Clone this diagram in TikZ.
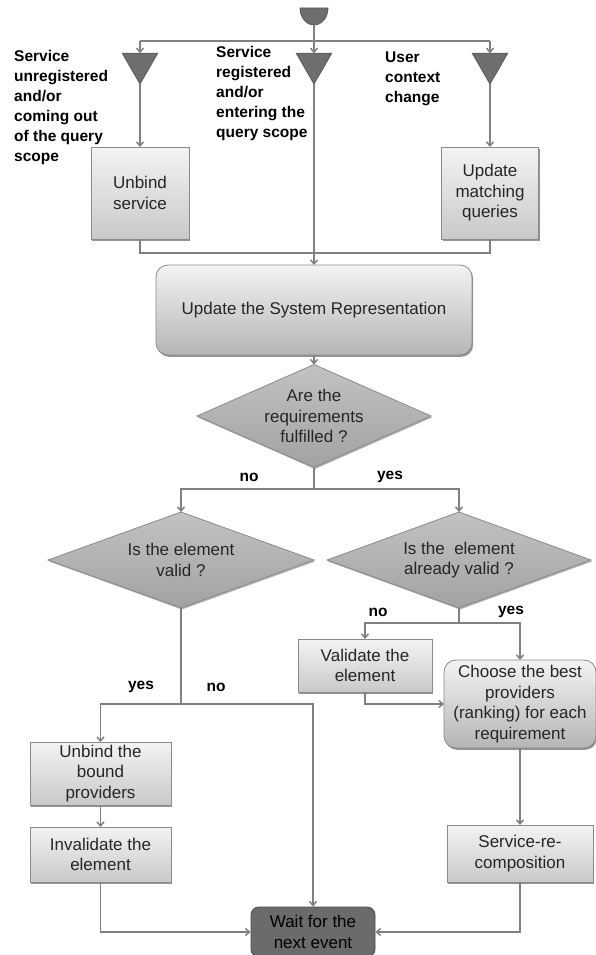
\documentclass[tikz,border=0pt]{standalone}
\usepackage{fontspec}
\setmainfont{Liberation Sans}
\usetikzlibrary{positioning,shapes.geometric,shadows,arrows.meta}

\definecolor{linegray}{HTML}{808080}
\definecolor{edgegray}{HTML}{8A8A8A}
\definecolor{boxtop}{HTML}{F3F3F3}
\definecolor{boxbot}{HTML}{C9C9C9}
\definecolor{roundbot}{HTML}{B5B5B5}
\definecolor{diamtop}{HTML}{C2C2C2}
\definecolor{diambot}{HTML}{A2A2A2}
\definecolor{eventgray}{HTML}{6E6E6E}
\definecolor{eventedge}{HTML}{5A5A5A}
\definecolor{waitgray}{HTML}{6B6B6B}

\begin{document}
\begin{tikzpicture}[x=1pt, y=-1pt, >={Straight Barb[length=4pt,width=7pt]},
    flow/.style={draw=linegray, line width=1.5pt},
    box/.style={rectangle, draw=edgegray, line width=0.8pt, top color=boxtop, bottom color=boxbot,
        drop shadow={shadow xshift=1.2pt, shadow yshift=-1.8pt, fill=black!60, opacity=.7},
        align=center, inner sep=0pt, outer sep=0pt, text=black!85,
        font=\fontsize{17}{20.5}\selectfont},
    roundbox/.style={box, rounded corners=12pt, bottom color=roundbot},
    decision/.style={diamond, draw=edgegray, line width=0.8pt, top color=diamtop, bottom color=diambot,
        drop shadow={shadow xshift=1pt, shadow yshift=-1.5pt, fill=black!50, opacity=.6},
        align=center, inner sep=0pt, outer sep=0pt, text=black!85,
        font=\fontsize{17}{20.5}\selectfont},
    event/.style={regular polygon, regular polygon sides=3, shape border rotate=180,
        minimum size=41pt, inner sep=0pt, outer sep=0pt, fill=eventgray, draw=eventedge, line width=0.8pt},
    cond/.style={font=\fontsize{15.5}{20}\selectfont\bfseries, align=left, inner sep=0pt, anchor=north west},
    lbl/.style={font=\fontsize{15.5}{18}\selectfont\bfseries, inner sep=0pt}]

    \useasboundingbox (0,0) rectangle (596,955);

    % start of the loop
    \fill[eventgray, draw=eventedge, line width=0.8pt] (300,8) -- (328,8)
        arc[start angle=0, end angle=180, x radius=14, y radius=17] -- cycle;
    \coordinate (start) at (314,25);
    \coordinate (busM) at (314,41);
    \coordinate (busL) at (140,41);
    \coordinate (busR) at (490,41);

    % incoming events
    \node[event] (tL) at (140,63.5) {};
    \node[event] (tM) at (314,63.5) {};
    \node[event] (tR) at (490,63.5) {};
    \node[cond] (evUnreg) at (14,50) {Service\\unregistered\\and/or\\coming out\\of the query\\scope};
    \node[cond] (evReg) at (216,46) {Service\\registered\\and/or\\entering the\\query scope};
    \node[cond] (evUser) at (385,52) {User\\context\\change};

    \node[box, minimum width=98pt, minimum height=92pt] (unbindS) at (140,193) {Unbind\\service};
    \node[box, minimum width=97pt, minimum height=92pt] (updQ) at (490,193) {Update\\matching\\queries};
    \coordinate (joinM) at (314,253);

    \node[roundbox, minimum width=316pt, minimum height=90pt] (sysRep) at (314,310)
        {Update the System Representation};
    \node[decision, aspect=2.3, minimum width=234pt, minimum height=103pt] (q1) at (314,416)
        {Are the\\requirements\\fulfilled ?};
    \coordinate (splitA) at (314,489);

    \node[decision, aspect=2.77, minimum width=266pt, minimum height=96pt] (q2) at (181,560)
        {Is the element\\valid ?};
    \node[decision, aspect=2.75, minimum width=264pt, minimum height=96pt] (q3) at (459,560)
        {Is the \ element\\already valid ?};
    \coordinate (splitB) at (181,704);
    \coordinate (splitC) at (459,623);

    \node[box, minimum width=134pt, minimum height=53pt] (validate) at (365,665.5) {Validate the\\element};
    \node[roundbox, minimum width=152pt, minimum height=88pt] (choose) at (520,704)
        {Choose the best\\providers\\(ranking) for each\\requirement};
    \node[box, minimum width=146pt, minimum height=57pt, below=77pt of choose] (compos) {Service-re-\\composition};

    \node[box, minimum width=141pt, minimum height=63pt] (unbindP) at (100.5,773.5) {Unbind the\\bound\\providers};
    \node[box, minimum width=141pt, minimum height=55pt, below=22pt of unbindP] (invalidate) {Invalidate the\\element};

    \node[rectangle, rounded corners=8pt, fill=waitgray, draw=black!70, line width=0.9pt,
        minimum width=124pt, minimum height=50pt, align=center, inner sep=0pt,
        font=\fontsize{17}{20.5}\selectfont] (wait) at (313,932) {Wait for the\\next event};

    % branch labels
    \node[lbl] (noA) at (249,477) {no};
    \node[lbl] (yesA) at (390,477) {yes};
    \node[lbl] (noC) at (378,612) {no};
    \node[lbl] (yesC) at (511,612) {yes};
    \node[lbl] (yesB) at (141,687) {yes};
    \node[lbl] (noB) at (216,687) {no};

    % connectors
    \draw[flow] (start) -- (busM);
    \draw[flow] (busL) -- (busR);
    \draw[flow, ->] (busL) -- (tL);
    \draw[flow, ->] (busM) -- (tM);
    \draw[flow, ->] (busR) -- (tR);
    \draw[flow, ->] (tL) -- (unbindS);
    \draw[flow, ->] (tR) -- (updQ);
    \draw[flow] (tM) -- (joinM);
    \draw[flow] (unbindS.south) |- (joinM) -| (updQ.south);
    \draw[flow, ->] (joinM) -- (sysRep);
    \draw[flow, ->] (sysRep) -- (q1);
    \draw[flow] (q1.south) -- (splitA);
    \draw[flow, ->] (splitA) -| (q2.north);
    \draw[flow, ->] (splitA) -| (q3.north);
    \draw[flow] (q3.south) -- (splitC);
    \draw[flow, ->] (splitC) -| (validate.north);
    \draw[flow, ->] (splitC) -| (choose.north);
    \draw[flow, ->] (validate.south) |- (choose.west);
    \draw[flow, ->] (choose) -- (compos);
    \draw[flow] (q2.south) -- (splitB);
    \draw[flow, ->] (splitB) -| (unbindP.north);
    \draw[flow, ->] (splitB) -| (wait.north);
    \draw[flow, ->] (unbindP) -- (invalidate);
    \draw[flow, ->] (invalidate.south) |- (wait.west);
    \draw[flow, ->] (compos.south) |- (wait.east);
\end{tikzpicture}
\end{document}
